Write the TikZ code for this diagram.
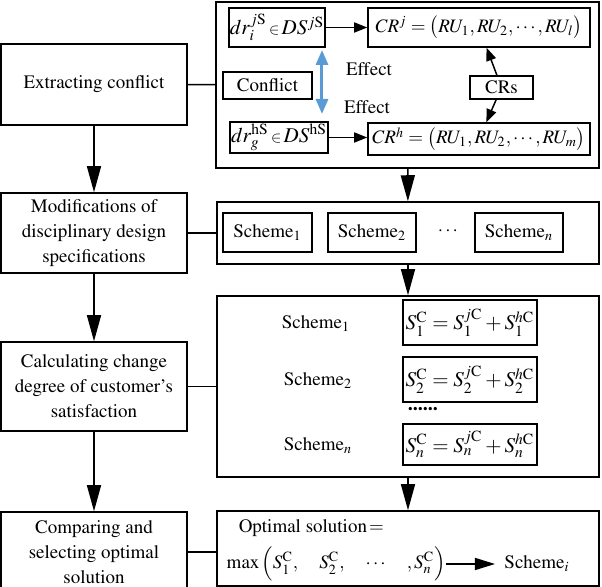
\documentclass[tikz,border=0pt]{standalone}
\usepackage[T1]{fontenc}
\usepackage{mathptmx}
\usetikzlibrary{arrows.meta}

\begin{document}
\begin{tikzpicture}[x=0.5pt, y=-0.5pt, line width=0.75pt,
  box/.style={draw=black, inner sep=0pt, align=center, font=\fontsize{9.5}{12.5}\selectfont},
  txt/.style={inner sep=0pt, font=\fontsize{9.5}{12.5}\selectfont},
  bigarrow/.style={-{Triangle[length=13pt,width=7pt]}},
  smallarrow/.style={-{Triangle[length=6.5pt,width=5pt]}}]
  \useasboundingbox (0,0) rectangle (602,587);

  % left column
  \node[box, minimum width=93pt, minimum height=40.5pt] (ext) at (94,84.5) {Extracting conflict};
  \node[box, minimum width=93pt, minimum height=40pt] (mod) at (94,233) {Modifications of\\disciplinary design\\specifications};
  \node[box, minimum width=93pt, minimum height=44.5pt] (calc) at (94,386.5) {Calculating change\\degree of customer's\\satisfaction};
  \node[box, minimum width=93pt, minimum height=40pt] (comp) at (94,552) {Comparing and\\selecting optimal\\solution};

  \draw[bigarrow] (ext) -- (mod);
  \draw[bigarrow] (mod) -- (calc);
  \draw[bigarrow] (calc) -- (comp);

  % right column, frames
  \node[box, minimum width=191.5pt, minimum height=83pt] (frame1) at (407.5,85) {};
  \node[box, minimum width=191pt, minimum height=31pt] (frame2) at (408,233) {};
  \node[box, minimum width=191pt, minimum height=90.5pt] (frame3) at (408,386.5) {};
  \node[box, minimum width=191pt, minimum height=37.5pt] (frame4) at (408,548.5) {};

  \draw (ext) -- (frame1);
  \draw (mod) -- (frame2);
  \draw (calc) -- (frame3);
  \draw (comp.east) -- (comp.east -| frame4.west);

  \draw[bigarrow] (frame1) -- (frame2);
  \draw[bigarrow] (frame2) -- (frame3);
  \draw[bigarrow] (frame3) -- (frame4);

  % conflict part
  \node[box, minimum width=48pt, minimum height=19.5pt, font=\fontsize{10.5}{13}\selectfont] (drj) at (277,27.5) {$dr_i^{j\mathrm{S}}\,{\scriptstyle\in}\, DS^{j\mathrm{S}}$};
  \node[box, minimum width=111pt, minimum height=19.5pt, font=\fontsize{9.5}{13}\selectfont] (crj) at (479,27.5) {$CR^j=\bigl(RU_1,RU_2,\cdots,RU_l\bigr)$};
  \node[box, minimum width=44.5pt, minimum height=13.5pt] (conf) at (267.5,85.5) {Conflict};
  \node[box, minimum width=31.5pt, minimum height=11.5pt] (crs) at (501.5,87.5) {CRs};
  \node[box, minimum width=49pt, minimum height=15.5pt, font=\fontsize{10.5}{13}\selectfont] (drh) at (279,137.5) {$dr_g^{\mathrm{hS}}\,{\scriptstyle\in}\, DS^{\mathrm{hS}}$};
  \node[box, minimum width=111pt, minimum height=16pt, font=\fontsize{9.5}{13}\selectfont] (crh) at (479,139) {$CR^h=\bigl(RU_1,RU_2,\cdots,RU_m\bigr)$};

  \draw[smallarrow] (drj) -- (crj);
  \draw[smallarrow] (drh.east) -- (drh.east -| crh.west);
  \draw[smallarrow] (crs) -- (crj);
  \draw[smallarrow] (crs) -- (crh);

  \coordinate (bluetop) at (322,50);
  \coordinate (bluebot) at (322,114);
  \draw[color={rgb,255:red,91;green,155;blue,213}, line width=1.5pt,
    {Triangle[length=7.5pt,width=6pt]}-{Triangle[length=7.5pt,width=6pt]}] (bluetop) -- (bluebot);
  \node[txt] (eff1) at (369,69) {Effect};
  \node[txt] (eff2) at (367,107) {Effect};

  % schemes
  \node[box, minimum width=44.5pt, minimum height=19.5pt] (s1) at (267.5,232.5) {Scheme$_1$};
  \node[box, minimum width=44pt, minimum height=19.5pt] (s2) at (372,232.5) {Scheme$_2$};
  \node[txt] (sdots) at (448,231) {$\cdots$};
  \node[box, minimum width=44pt, minimum height=19.5pt] (sn) at (519,232.5) {Scheme$_n$};

  % satisfaction
  \node[txt] (c1) at (316,324) {Scheme$_1$};
  \node[txt] (c2) at (318,381) {Scheme$_2$};
  \node[txt] (cn) at (318,446) {Scheme$_n$};
  \node[box, minimum width=67pt, minimum height=22.5pt, font=\fontsize{10.5}{13}\selectfont] (f1) at (470,322.5) {$S_1^{\mathrm{C}}=S_1^{j\mathrm{C}}+S_1^{h\mathrm{C}}$};
  \node[box, minimum width=67pt, minimum height=22.5pt, font=\fontsize{10.5}{13}\selectfont] (f2) at (470,379.5) {$S_2^{\mathrm{C}}=S_2^{j\mathrm{C}}+S_2^{h\mathrm{C}}$};
  \node[txt, font=\bfseries] (fdots) at (423,409) {......};
  \node[box, minimum width=67pt, minimum height=20.5pt, font=\fontsize{10.5}{13}\selectfont] (fn) at (470,444.5) {$S_n^{\mathrm{C}}=S_n^{j\mathrm{C}}+S_n^{h\mathrm{C}}$};

  % optimal solution
  \node[txt, anchor=west] (opt) at (238,528) {Optimal solution$\,=$};
  \node[txt, anchor=west, font=\fontsize{9.5}{12}\selectfont] (maxs) at (226,564) {$\max\Big(S_1^{\mathrm{C}},\quad S_2^{\mathrm{C}},\quad \cdots\quad ,S_n^{\mathrm{C}}\Big)$};
  \node[txt] (si) at (537,564) {Scheme$_i$};
  \draw[-{Triangle[length=10pt,width=6pt]}] (maxs.east) -- (si.west -| 495,0);
\end{tikzpicture}
\end{document}
